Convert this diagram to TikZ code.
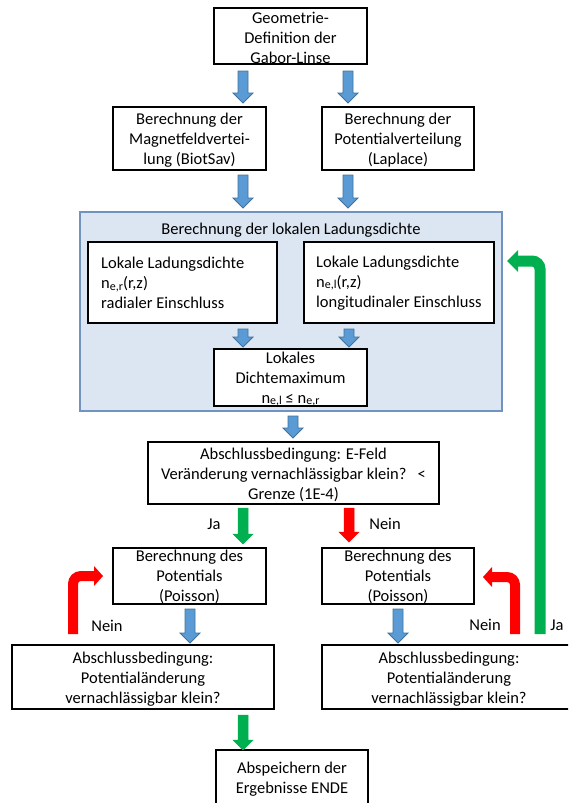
\documentclass[tikz,border=0pt]{standalone}
\usepackage{fontspec}
\setmainfont{Carlito}
\usetikzlibrary{calc}
\definecolor{arrblue}{HTML}{5B9BD5}
\definecolor{arrblueb}{HTML}{41719C}
\definecolor{panelfill}{HTML}{DCE6F2}
\definecolor{panelline}{HTML}{7093C0}
\definecolor{okgreen}{HTML}{00B050}
\definecolor{nored}{HTML}{FF0000}
\newcommand\sbs[1]{\raisebox{-1.5pt}{\fontsize{12}{12}\selectfont #1}}
% block arrow pointing down: #1 style, #2 start, #3 tip
\newcommand\blkdown[3]{%
  \path[#1] let \p1=(#2),\p2=(#3) in
    (\x1-5pt,\y1) -- (\x1+5pt,\y1) -- (\x1+5pt,\y2+10pt) -- (\x1+10pt,\y2+10pt)
    -- (\x1,\y2) -- (\x1-10pt,\y2+10pt) -- (\x1-5pt,\y2+10pt) -- cycle;}
\tikzset{
  box/.style={draw=black,line width=1.4pt,fill=white,inner sep=0pt},
  txt/.style={align=center,inner sep=0pt},
  txtl/.style={align=left,inner sep=0pt,anchor=west},
  bluearr/.style={fill=arrblue,draw=arrblueb,line width=0.8pt},
  greenarr/.style={fill=okgreen,draw=okgreen,line width=0.5pt},
  redarr/.style={fill=nored,draw=nored,line width=0.5pt},
}
\begin{document}
\begin{tikzpicture}[x=1pt,y=-1pt,every node/.append style={font=\fontsize{16.5}{20}\selectfont}]
\useasboundingbox (0,0) rectangle (568,803);
\clip (0,0) rectangle (568,803);

% boxes
\node[box,minimum width=153pt,minimum height=56pt] (geo) at (290.5,36) {};
\node[txt] (geoT) at (290.5,38) {Geometrie-\\Definition der\\Gabor-Linse};

\node[box,minimum width=153pt,minimum height=63pt] (mag) at (189.5,138.5) {};
\node[txt] (magT) at (189.5,140) {Berechnung der\\Magnetfeldvertei-\\lung (BiotSav)};

\node[box,minimum width=152pt,minimum height=63pt] (pot) at (398,138.5) {};
\node[txt] (potT) at (398,140) {Berechnung der\\Potentialverteilung\\(Laplace)};

\node[draw=panelline,fill=panelfill,line width=1.2pt,inner sep=0pt,minimum width=422pt,minimum height=199pt] (panel) at (291,311.5) {};
\node[txt] (panelT) at (291,230) {Berechnung der lokalen Ladungsdichte};

\node[box,minimum width=189pt,minimum height=81pt] (inL) at (182.5,282.5) {};
\node[txtl] (inLT) at (101,283) {Lokale Ladungsdichte\\n\sbs{e,r}(r,z)\\radialer Einschluss};

\node[box,minimum width=190pt,minimum height=81pt] (inR) at (399,282.5) {};
\node[txtl] (inRT) at (316,283) {Lokale Ladungsdichte\\n\sbs{e,l}(r,z)\\longitudinaler Einschluss};

\node[box,minimum width=153pt,minimum height=57pt] (dichte) at (290.5,377.5) {};
\node[txt] (dichteT) at (290.5,379) {Lokales\\Dichtemaximum\\n\sbs{e,l} ≤ n\sbs{e,r}};

\node[box,minimum width=291pt,minimum height=62pt] (cond) at (293.5,473) {};
\node[txt] (condT) at (293.5,475) {Abschlussbedingung: E-Feld\\Veränderung vernachlässigbar klein?~~~<\\Grenze (1E-4)};

\node[box,minimum width=153pt,minimum height=56pt] (poisL) at (189.5,576) {};
\node[txt] (poisLT) at (189.5,577) {Berechnung des\\Potentials\\(Poisson)};

\node[box,minimum width=152pt,minimum height=56pt] (poisR) at (398,576) {};
\node[txt] (poisRT) at (398,577) {Berechnung des\\Potentials\\(Poisson)};

\node[box,minimum width=262pt,minimum height=64pt] (condL) at (143,677) {};
\node[txt] (condLT) at (143,679) {Abschlussbedingung:\\Potentialänderung\\vernachlässigbar klein?};

\node[box,minimum width=254pt,minimum height=64pt] (condR) at (449,677) {};
\node[txt] (condRT) at (449,679) {Abschlussbedingung:\\Potentialänderung\\vernachlässigbar klein?};

\node[box,minimum width=152pt,minimum height=65pt] (endb) at (292,782.5) {};
\node[txt] (endT) at (292,779) {Abspeichern der\\Ergebnisse ENDE};

% labels
\node[txt] (ja1) at (214,524) {Ja};
\node[txt] (nein1) at (385,524) {Nein};
\node[txt] (nein2) at (107,626) {Nein};
\node[txt] (nein3) at (485,625) {Nein};
\node[txt] (ja2) at (557,625) {Ja};

% arrow coordinates
\coordinate (a1s) at (243,71);  \coordinate (a1e) at (243,103);
\coordinate (a2s) at (348,71);  \coordinate (a2e) at (348,103);
\coordinate (a3s) at (243,175); \coordinate (a3e) at (243,208);
\coordinate (a4s) at (348,175); \coordinate (a4e) at (348,208);
\coordinate (a5s) at (243,329); \coordinate (a5e) at (243,347);
\coordinate (a6s) at (349,329); \coordinate (a6e) at (349,347);
\coordinate (a7s) at (293,416); \coordinate (a7e) at (293,438);
\coordinate (a8s) at (190,609); \coordinate (a8e) at (190,643);
\coordinate (a9s) at (398,609); \coordinate (a9e) at (398,643);
\coordinate (g1s) at (243,508); \coordinate (g1e) at (243,544);
\coordinate (g2s) at (243,715); \coordinate (g2e) at (243,750);
\coordinate (r1s) at (349,508); \coordinate (r1e) at (349,542);

\blkdown{bluearr}{a1s}{a1e}
\blkdown{bluearr}{a2s}{a2e}
\blkdown{bluearr}{a3s}{a3e}
\blkdown{bluearr}{a4s}{a4e}
\blkdown{bluearr}{a5s}{a5e}
\blkdown{bluearr}{a6s}{a6e}
\blkdown{bluearr}{a7s}{a7e}
\blkdown{bluearr}{a8s}{a8e}
\blkdown{bluearr}{a9s}{a9e}
\blkdown{greenarr}{g1s}{g1e}
\blkdown{greenarr}{g2s}{g2e}
\blkdown{redarr}{r1s}{r1e}

% bent arrows
\coordinate (bl1) at (73,634); \coordinate (bl3) at (94,576); \coordinate (blt) at (103,576);
\draw[nored,line width=10pt,rounded corners=8pt] (bl1) |- (bl3);
\fill[nored] ($(bl3)+(0,-10)$) -- (blt) -- ($(bl3)+(0,10)$) -- cycle;

\coordinate (br1) at (515,634); \coordinate (br3) at (492,577); \coordinate (brt) at (483,577);
\draw[nored,line width=10pt,rounded corners=8pt] (br1) |- (br3);
\fill[nored] ($(br3)+(0,-10)$) -- (brt) -- ($(br3)+(0,10)$) -- cycle;

\coordinate (bg1) at (540,634); \coordinate (bg3) at (518,261); \coordinate (bgt) at (507,261);
\draw[okgreen,line width=11pt,rounded corners=8pt] (bg1) |- (bg3);
\fill[okgreen] ($(bg3)+(0,-11)$) -- (bgt) -- ($(bg3)+(0,11)$) -- cycle;
\end{tikzpicture}
\end{document}
